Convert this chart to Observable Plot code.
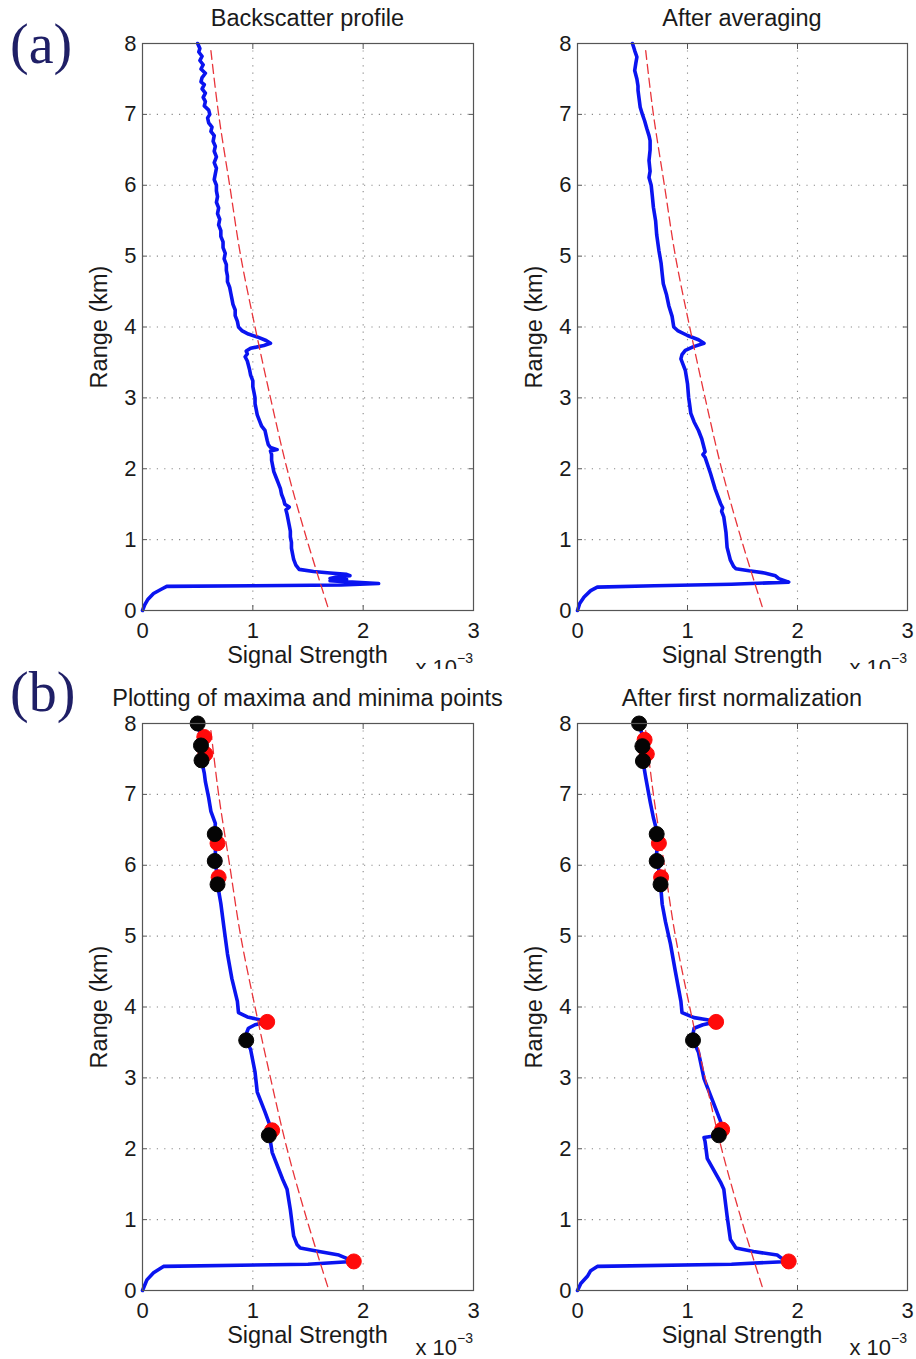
<!DOCTYPE html>
<html>
<head>
<meta charset="utf-8">
<script src="https://cdn.jsdelivr.net/npm/d3@7"></script>
<script src="https://cdn.jsdelivr.net/npm/@observablehq/plot@0.6"></script>
<style>
  html, body { margin: 0; padding: 0; background: #fff; }
  #page { position: relative; width: 916px; height: 1359px; overflow: hidden; background: #fff;
          font-family: "Liberation Sans", Arial, Helvetica, sans-serif; color: #1a1a1a; }
  .section { position: absolute; left: 0; width: 916px; background: #fff; overflow: hidden; }
  .lbl { position: absolute; white-space: nowrap; line-height: 1; }
  .panel { position: absolute; }
  .tag { position: absolute; font-family: "Liberation Serif", "Times New Roman", serif; color: #1f1f66;
         font-size: 56px; line-height: 1; white-space: nowrap; z-index: 5; }
  sup { font-size: 14px; position: relative; top: -4px; }
</style>
</head>
<body>
<div id="page"></div>
<script>
// Tick values shared by every panel (signal in units of 1e-3, range in km)
const xTicks = [0, 1, 2, 3];
const yTicks = [0, 1, 2, 3, 4, 5, 6, 7, 8];
const xGrid = [1, 2];
const yGrid = [1, 2, 3, 4, 5, 6, 7];

// Reference decay curve (dashed red), range km -> signal
const fitRange  = [7.9, 7, 6, 5, 4, 3, 2, 1, 0];
const fitSignal = [0.62, 0.69, 0.79, 0.89, 1.02, 1.16, 1.31, 1.49, 1.69];

// Raw backscatter profile: [range km, signal]
const rawProfile = [
  [8.00,0.50],[7.93,0.52],[7.88,0.51],[7.82,0.54],[7.76,0.52],[7.70,0.55],[7.64,0.53],[7.58,0.57],
  [7.52,0.54],[7.46,0.53],[7.42,0.56],[7.36,0.54],[7.30,0.57],[7.24,0.55],[7.18,0.57],[7.12,0.56],
  [7.06,0.60],[7.00,0.61],[6.95,0.59],[6.88,0.60],[6.82,0.63],[6.76,0.62],[6.70,0.65],[6.62,0.64],
  [6.55,0.66],[6.48,0.65],[6.40,0.67],[6.32,0.65],[6.24,0.67],[6.16,0.66],[6.08,0.65],[6.00,0.67],
  [5.92,0.67],[5.84,0.68],[5.76,0.67],[5.68,0.69],[5.60,0.68],[5.52,0.70],[5.44,0.69],[5.36,0.71],
  [5.28,0.71],[5.20,0.73],[5.12,0.73],[5.04,0.75],[4.96,0.74],[4.88,0.76],[4.80,0.76],[4.72,0.77],
  [4.64,0.77],[4.56,0.79],[4.48,0.80],[4.40,0.81],[4.32,0.82],[4.24,0.84],[4.16,0.84],[4.08,0.86],
  [4.00,0.87],[3.95,0.90],[3.90,0.96],[3.86,1.04],[3.81,1.12],[3.77,1.16],[3.74,1.10],[3.70,0.98],
  [3.66,0.94],[3.62,0.95],[3.58,0.93],[3.52,0.95],[3.46,0.96],[3.40,0.97],[3.32,0.98],[3.24,1.00],
  [3.16,1.00],[3.08,1.01],[3.00,1.02],[2.92,1.02],[2.84,1.03],[2.76,1.04],[2.68,1.06],[2.60,1.08],
  [2.54,1.11],[2.47,1.12],[2.40,1.13],[2.34,1.14],[2.30,1.16],[2.27,1.22],[2.25,1.16],[2.20,1.17],
  [2.12,1.17],[2.04,1.18],[1.96,1.19],[1.88,1.21],[1.80,1.23],[1.72,1.25],[1.64,1.26],[1.56,1.28],
  [1.50,1.29],[1.46,1.33],[1.42,1.30],[1.36,1.31],[1.28,1.32],[1.20,1.33],[1.12,1.34],[1.04,1.34],
  [0.96,1.35],[0.88,1.35],[0.80,1.36],[0.72,1.37],[0.64,1.39],[0.58,1.42],[0.55,1.55],[0.53,1.70],
  [0.51,1.85],[0.49,1.88],[0.47,1.75],[0.45,1.70],[0.44,1.85],[0.42,1.70],[0.40,1.90],[0.38,2.14],
  [0.36,1.80],[0.35,1.00],[0.34,0.22],[0.30,0.17],[0.24,0.10],[0.16,0.05],[0.08,0.02],[0.00,0.00]
];

// Profile after averaging
const avgProfile = [
  [8.00,0.50],[7.90,0.52],[7.81,0.54],[7.72,0.53],[7.62,0.52],[7.50,0.54],[7.40,0.55],[7.34,0.55],
  [7.22,0.56],[7.10,0.57],[7.00,0.59],[6.91,0.61],[6.80,0.63],[6.70,0.65],[6.63,0.66],[6.50,0.66],
  [6.35,0.65],[6.20,0.66],[6.11,0.65],[6.00,0.67],[5.85,0.68],[5.69,0.69],[5.50,0.71],[5.30,0.72],
  [5.08,0.74],[4.90,0.76],[4.75,0.77],[4.61,0.78],[4.45,0.81],[4.30,0.83],[4.15,0.86],[4.00,0.875],
  [3.95,0.91],[3.88,1.00],[3.82,1.10],[3.77,1.15],[3.72,1.05],[3.67,0.98],[3.61,0.95],[3.55,0.94],
  [3.47,0.96],[3.39,0.98],[3.20,1.00],[3.01,1.01],[2.90,1.02],[2.78,1.03],[2.66,1.06],[2.54,1.10],
  [2.42,1.13],[2.30,1.15],[2.24,1.16],[2.20,1.14],[2.16,1.16],[1.93,1.21],[1.72,1.25],[1.51,1.30],
  [1.45,1.32],[1.40,1.31],[1.32,1.33],[1.10,1.35],[0.89,1.36],[0.71,1.39],[0.62,1.42],[0.59,1.44],
  [0.56,1.56],[0.53,1.70],[0.49,1.80],[0.45,1.83],[0.40,1.92],[0.37,1.40],[0.35,0.70],[0.33,0.18],
  [0.28,0.12],[0.19,0.06],[0.10,0.02],[0.00,0.00]
];

// Averaged profile used for the extrema search
const peakProfile = [
  [8.00,0.50],[7.81,0.53],[7.69,0.53],[7.57,0.54],[7.48,0.535],[7.30,0.56],[7.18,0.57],[6.95,0.60],
  [6.76,0.62],[6.59,0.66],[6.44,0.655],[6.31,0.665],[6.18,0.66],[6.06,0.655],[5.93,0.67],[5.83,0.68],
  [5.73,0.68],[5.46,0.71],[5.10,0.74],[4.75,0.77],[4.40,0.81],[4.08,0.86],[4.00,0.865],[3.92,0.87],
  [3.86,0.95],[3.82,1.06],[3.79,1.13],[3.75,1.02],[3.70,0.96],[3.62,0.94],[3.53,0.94],[3.40,0.98],
  [3.08,1.02],[2.80,1.04],[2.52,1.11],[2.35,1.15],[2.26,1.16],[2.19,1.145],[2.10,1.16],[1.95,1.175],
  [1.57,1.27],[1.50,1.29],[1.43,1.31],[1.14,1.34],[0.77,1.37],[0.65,1.40],[0.60,1.43],[0.55,1.60],
  [0.50,1.78],[0.46,1.84],[0.41,1.90],[0.37,1.50],[0.34,0.19],[0.30,0.15],[0.25,0.10],[0.15,0.04],
  [0.00,0.00]
];
const peakMaxima = [[7.81,0.56],[7.57,0.57],[6.31,0.68],[5.83,0.69],[3.79,1.13],[2.26,1.175],[0.41,1.915]];
const peakMinima = [[8.00,0.50],[7.69,0.53],[7.48,0.535],[6.44,0.655],[6.06,0.655],[5.73,0.68],[3.53,0.94],[2.19,1.145]];

// Profile after the first normalization
const normProfile = [
  [8.00,0.56],[7.77,0.60],[7.68,0.59],[7.57,0.60],[7.47,0.595],[7.24,0.62],[6.90,0.66],[6.67,0.69],
  [6.55,0.71],[6.44,0.72],[6.31,0.73],[6.18,0.72],[6.06,0.72],[5.93,0.74],[5.83,0.755],[5.73,0.755],
  [5.45,0.77],[5.20,0.80],[4.89,0.845],[4.50,0.89],[4.08,0.94],[3.92,0.95],[3.85,1.06],[3.82,1.18],
  [3.79,1.26],[3.75,1.14],[3.70,1.06],[3.62,1.05],[3.53,1.05],[3.36,1.10],[2.99,1.15],[2.71,1.22],
  [2.39,1.30],[2.27,1.315],[2.19,1.285],[2.16,1.15],[2.10,1.16],[1.86,1.18],[1.53,1.30],[1.43,1.33],
  [1.30,1.34],[1.05,1.36],[0.72,1.39],[0.60,1.44],[0.55,1.60],[0.50,1.815],[0.45,1.86],[0.41,1.92],
  [0.37,1.40],[0.34,0.18],[0.28,0.12],[0.20,0.09],[0.10,0.03],[0.00,0.00]
];
const normMaxima = [[7.77,0.61],[7.57,0.63],[6.31,0.74],[5.83,0.76],[3.79,1.26],[2.27,1.315],[0.41,1.92]];
const normMinima = [[8.00,0.56],[7.68,0.59],[7.47,0.595],[6.44,0.72],[6.06,0.72],[5.73,0.755],[3.53,1.05],[2.19,1.285]];

const asPoints = (rows) => rows.map(([range, signal]) => ({range, signal}));
const fitCurve = fitRange.map((range, i) => ({range, signal: fitSignal[i]}));

const FONT = '"Liberation Sans", Arial, Helvetica, sans-serif';
const TICK_SIZE = 22;
const LABEL_SIZE = 23.5;
const page = document.getElementById("page");

function panel({profile, maxima = [], minima = [], width, marginLeft, marginRight}) {
  const gridStyle = {stroke: "#8a8a8a", strokeOpacity: 1, strokeWidth: 1.1, strokeDasharray: "1.2,6.2"};
  const blank = () => "";
  const integer = (d) => String(d);
  return Plot.plot({
    width, height: 650,
    marginTop: 43, marginBottom: 40, marginLeft, marginRight,
    style: {fontFamily: FONT, fontSize: TICK_SIZE + "px", color: "#1a1a1a", background: "transparent", overflow: "visible"},
    x: {domain: [0, 3]},
    y: {domain: [0, 8]},
    marks: [
      Plot.gridX(xGrid, gridStyle),
      Plot.gridY(yGrid, gridStyle),
      Plot.line(asPoints(profile), {x: "signal", y: "range", stroke: "#0a14f0", strokeWidth: 3.6, strokeLinejoin: "round"}),
      Plot.line(fitCurve, {x: "signal", y: "range", stroke: "#e8343a", strokeWidth: 1.3, strokeDasharray: "9,5", curve: "catmull-rom"}),
      Plot.dot(asPoints(maxima), {x: "signal", y: "range", r: 7.5, fill: "#ff0a0a", stroke: "#ff0a0a", strokeWidth: 1}),
      Plot.dot(asPoints(minima), {x: "signal", y: "range", r: 7.5, fill: "#050505", stroke: "#050505", strokeWidth: 1}),
      Plot.frame({stroke: "#555", strokeWidth: 1.2}),
      // tick labels
      Plot.axisX(xTicks, {anchor: "bottom", tickSize: 0, tickPadding: 12, label: null, tickFormat: integer}),
      Plot.axisY(yTicks, {anchor: "left", tickSize: 0, tickPadding: 6, label: null, tickFormat: integer}),
      // inward tick marks on all four sides
      Plot.axisX(xTicks, {anchor: "bottom", tickSize: 5, dy: -5, tickFormat: blank, label: null, stroke: "#555"}),
      Plot.axisX(xTicks, {anchor: "top", tickSize: 5, dy: 5, tickFormat: blank, label: null, stroke: "#555"}),
      Plot.axisY(yTicks, {anchor: "left", tickSize: 5, dx: 5, tickFormat: blank, label: null, stroke: "#555"}),
      Plot.axisY(yTicks, {anchor: "right", tickSize: 5, dx: -5, tickFormat: blank, label: null, stroke: "#555"})
    ]
  });
}

function addText(parent, html, {left, top, size = LABEL_SIZE, anchor = "middle", rotate = 0, cls = "lbl"}) {
  const el = document.createElement("div");
  el.className = cls;
  el.innerHTML = html;
  el.style.left = left + "px";
  el.style.top = top + "px";
  if (cls === "lbl") el.style.fontSize = size + "px";
  const tx = anchor === "middle" ? "-50%" : anchor === "end" ? "-100%" : "0";
  el.style.transform = `translate(${tx}, -50%)` + (rotate ? ` rotate(${rotate}deg)` : "");
  parent.appendChild(el);
  return el;
}

function section(top, height, z) {
  const s = document.createElement("div");
  s.className = "section";
  s.style.top = top + "px";
  s.style.height = height + "px";
  s.style.zIndex = z;
  page.appendChild(s);
  return s;
}

function place(parent, svg, left, top) {
  const wrap = document.createElement("div");
  wrap.className = "panel";
  wrap.style.left = left + "px";
  wrap.style.top = top + "px";
  wrap.appendChild(svg);
  parent.appendChild(wrap);
}

// Layout: two rows, left panel frame x 142..473, right panel frame x 577..907
const rows = [
  {top: 0, sectionTop: 0, sectionHeight: 669, tag: "(a)", tagY: 44, panels: [
    {title: "Backscatter profile", profile: rawProfile},
    {title: "After averaging", profile: avgProfile}
  ]},
  {top: 680, sectionTop: 669, sectionHeight: 690, tag: "(b)", tagY: 692, panels: [
    {title: "Plotting of maxima and minima points", profile: peakProfile, maxima: peakMaxima, minima: peakMinima},
    {title: "After first normalization", profile: normProfile, maxima: normMaxima, minima: normMinima}
  ]}
];
const cols = [
  {left: 0, width: 500, marginLeft: 142, marginRight: 27},
  {left: 440, width: 476, marginLeft: 137, marginRight: 9}
];

rows.forEach((row, r) => {
  const s = section(row.sectionTop, row.sectionHeight, r + 1);
  const off = row.top - row.sectionTop;
  row.panels.forEach((p, c) => {
    const col = cols[c];
    const svg = panel({...p, width: col.width, marginLeft: col.marginLeft, marginRight: col.marginRight});
    place(s, svg, col.left, off);
    const fx0 = col.left + col.marginLeft;
    const fx1 = col.left + col.width - col.marginRight;
    const cx = (fx0 + fx1) / 2;
    addText(s, p.title, {left: cx, top: off + 19});
    addText(s, "Signal Strength", {left: cx, top: off + 656});
    addText(s, "x 10<sup>−3</sup>", {left: fx1, top: off + 667, size: TICK_SIZE, anchor: "end"});
    addText(s, "Range (km)", {left: fx0 - 42, top: off + 43 + 283.5, rotate: -90});
  });
  // panel-group letters sit above both sections
  addText(page, row.tag, {left: 10, top: row.tagY, anchor: "start", cls: "tag"});
});
</script>
</body>
</html>
